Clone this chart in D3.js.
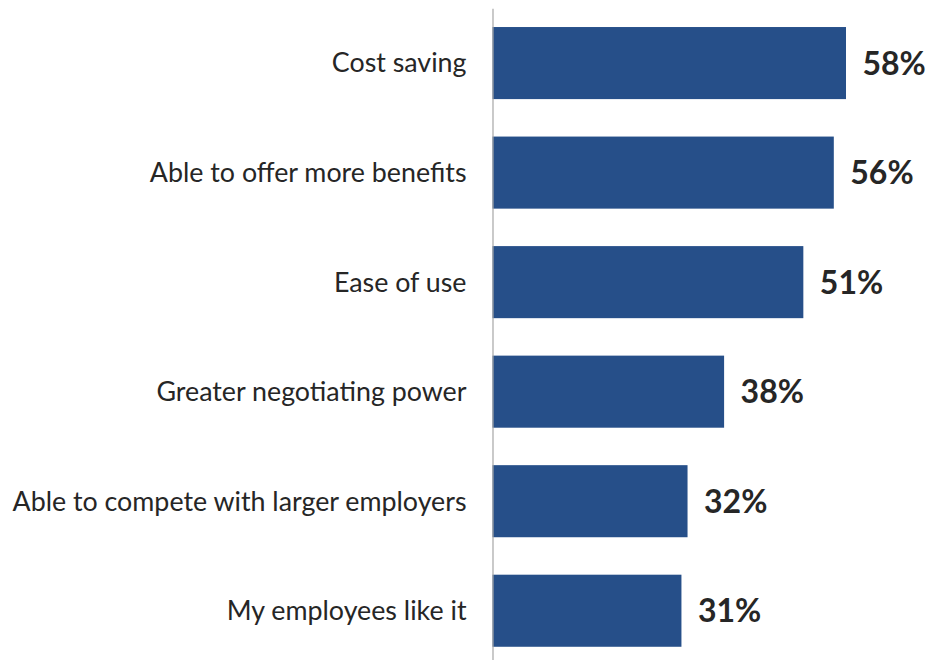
<!DOCTYPE html>
<html>
<head>
<meta charset="utf-8">
<script src="https://cdn.jsdelivr.net/npm/d3@7"></script>
<style>
  html, body { margin: 0; padding: 0; background: #fff; }
  svg { display: block; }
</style>
</head>
<body>
<svg id="chart" width="930" height="660"></svg>
<script>
// Reasons for choosing the plan (% of employers)
const categories = [
  "Cost saving",
  "Able to offer more benefits",
  "Ease of use",
  "Greater negotiating power",
  "Able to compete with larger employers",
  "My employees like it"
];
const values = [58, 56, 51, 38, 32, 31];

const svg = d3.select("#chart");
const x0 = 492.5;

const x = d3.scaleLinear().domain([0, 58]).range([x0, 846]);
const y = d3.scaleBand()
  .domain(categories)
  .range([8.3, 665.5])
  .paddingInner(0.342)
  .paddingOuter(0.171);

const rows = categories.map((c, i) => ({ cat: c, val: values[i] }));

// bars
svg.append("g").selectAll("rect")
  .data(rows)
  .join("rect")
  .attr("x", x(0))
  .attr("y", d => y(d.cat))
  .attr("width", d => x(d.val) - x(0))
  .attr("height", y.bandwidth())
  .attr("fill", "#264f89");

// category axis
const yAxis = d3.axisLeft(y).tickSize(0).tickPadding(26);
const gy = svg.append("g")
  .attr("transform", `translate(${x0},0)`)
  .call(yAxis);
gy.select(".domain").attr("stroke", "#a6a6a6").attr("stroke-width", 1.2);
gy.selectAll(".tick text")
  .attr("font-family", "Lato, sans-serif")
  .attr("font-size", 26.8)
  .attr("fill", "#262626")
  .attr("dy", "0.35em");

// value labels
svg.append("g").selectAll("text")
  .data(rows)
  .join("text")
  .attr("x", d => x(d.val) + 16.5)
  .attr("y", d => y(d.cat) + y.bandwidth() / 2)
  .attr("dy", "0.36em")
  .attr("font-family", "Lato, sans-serif")
  .attr("font-weight", "bold")
  .attr("font-size", 32)
  .attr("fill", "#262626")
  .text(d => d.val + "%");
</script>
</body>
</html>
